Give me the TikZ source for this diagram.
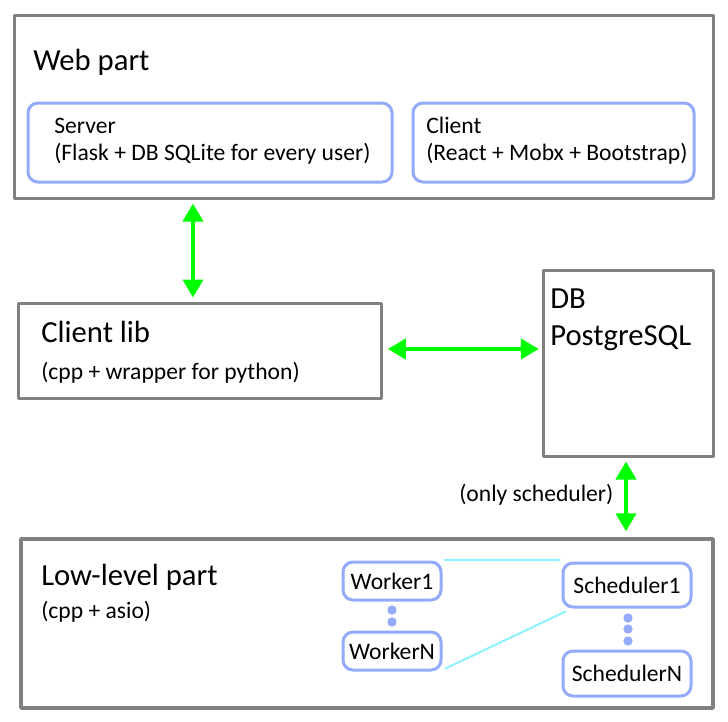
\documentclass[tikz,border=0pt]{standalone}
\usepackage{fontspec}
\setmainfont{Carlito}
\usetikzlibrary{arrows.meta}
\definecolor{wwwwww}{rgb}{0.5,0.5,0.5}
\definecolor{bbccff}{rgb}{0.58,0.67,0.98}
\definecolor{zzffzz}{rgb}{0,1,0}
\definecolor{ccffff}{rgb}{0.55,0.95,1}

\begin{document}
\begin{tikzpicture}[line cap=round,line join=round,>={Triangle[length=13.5pt,width=15pt]},x=0.75pt,y=-0.75pt,
		part/.style={draw=wwwwww,line width=2.25pt,inner sep=0pt},
		sub/.style={draw=bbccff,line width=2.25pt,rounded corners=7.5pt,inner sep=0pt,font=\fontsize{17.7}{21}\selectfont},
		big/.style={font=\fontsize{23}{27}\selectfont,inner sep=0pt,anchor=base west},
		small/.style={font=\fontsize{17.7}{21}\selectfont,inner sep=0pt,anchor=base west},
		link/.style={<->,draw=zzffzz,fill=zzffzz,line width=3pt,line cap=butt},
		tie/.style={draw=ccffff,line width=1.5pt}]
		\useasboundingbox (0,0) rectangle (728,721);
		% boxes
		\node[part,minimum width=524.25pt,minimum height=137.25pt] (web) at (363.5,106.5) {};
		\node[sub,minimum width=273pt,minimum height=59.25pt] (srv) at (210,142.5) {};
		\node[sub,minimum width=210.75pt,minimum height=59.25pt] (cli) at (553.5,142.5) {};
		\node[part,minimum width=272.25pt,minimum height=71.25pt] (clib) at (199.5,350.5) {};
		\node[part,minimum width=127.5pt,minimum height=139.5pt] (db) at (628,363) {};
		\node[part,line width=2.6pt,minimum width=519pt,minimum height=126.75pt] (low) at (367,623.5) {};
		\node[sub,minimum width=73.5pt,minimum height=28.5pt] (w1) at (392,581) {Worker1};
		\node[sub,minimum width=73.5pt,minimum height=28.5pt] (wN) at (392,651) {WorkerN};
		\node[sub,minimum width=96pt,minimum height=33pt] (s1) at (627,585) {Scheduler1};
		\node[sub,minimum width=96pt,minimum height=33.75pt] (sN) at (627,673.5) {SchedulerN};
		% texts
		\node[big] (webt) at (33,70) {Web part};
		\node[small] (srvt) at (54,133) {Server};
		\node[small] (srvd) at (54,160) {(Flask + DB SQLite for every user)};
		\node[small] (clit) at (426,133) {Client};
		\node[small] (clid) at (426,160) {(React + Mobx + Bootstrap)};
		\node[big] (clibt) at (41,342) {Client lib};
		\node[small] (clibd) at (41,379) {(cpp + wrapper for python)};
		\node[big] (dbt) at (550,308) {DB};
		\node[big] (dbd) at (550,345) {PostgreSQL};
		\node[small] (only) at (459,501) {(only scheduler)};
		\node[big] (lowt) at (41,585) {Low-level part};
		\node[small] (lowd) at (41,618) {(cpp + asio)};
		% connectors
		\coordinate (up) at (193,0);
		\coordinate (mid) at (0,349);
		\coordinate (down) at (626,0);
		\draw[link,shorten <=3pt,shorten >=3pt] (web.south -| up) -- (clib.north -| up);
		\draw[link,shorten <=4pt,shorten >=2pt] (clib.east |- mid) -- (db.west |- mid);
		\draw[link,shorten <=3pt,shorten >=4.5pt] (db.south -| down) -- (low.north -| down);
		\draw[tie] ([shift={(2,-1)}]w1.north east) -- ([shift={(-2,-2)}]s1.north west);
		\draw[tie] ([shift={(4,3)}]s1.south west) -- ([shift={(3,-3)}]wN.south east);
		\foreach \y in {610,622} \fill[bbccff] (392,\y) circle (3.5pt);
		\foreach \y in {618,629,641} \fill[bbccff] (628,\y) circle (3.5pt);
	\end{tikzpicture}
\end{document}
